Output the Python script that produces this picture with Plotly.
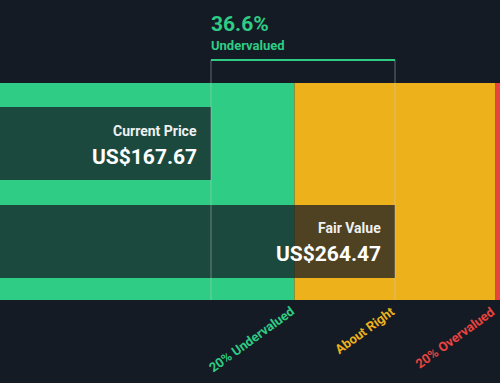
import plotly.graph_objects as go

current_price = 167.67
fair_value = 264.47
bar_labels = ["Current Price", "Fair Value"]
bar_values = [current_price, fair_value]
band_labels = ["20% Undervalued", "About Right", "20% Overvalued"]
undervalued_pct = 36.6

BG = "#151b24"
GREEN = "#2ecc84"
YELLOW = "#edb21b"
RED = "#e8433f"

x_min = 56.66
x_max = 319.7

fig = go.Figure()

# bands
fig.add_shape(type="rect", xref="x", yref="y", x0=x_min, x1=0.8 * fair_value, y0=83, y1=300,
              fillcolor=GREEN, line_width=0, layer="below")
fig.add_shape(type="rect", xref="x", yref="y", x0=0.8 * fair_value, x1=1.2 * fair_value, y0=83, y1=300,
              fillcolor=YELLOW, line_width=0, layer="below")
fig.add_shape(type="rect", xref="x", yref="y", x0=1.2 * fair_value, x1=x_max, y0=83, y1=300,
              fillcolor=RED, line_width=0, layer="below")

# bars
fig.add_trace(go.Bar(
    x=bar_values, y=[143.5, 241], base=0, orientation="h", width=73,
    marker=dict(color="rgba(21,27,36,0.74)", line_width=0),
    hoverinfo="skip", showlegend=False,
))

# vertical guide lines
for v in bar_values:
    fig.add_shape(type="line", xref="x", yref="y", x0=v, x1=v, y0=60, y1=300,
                  line=dict(color="rgba(200,205,210,0.45)", width=1))
# green top line
fig.add_shape(type="line", xref="x", yref="y", x0=current_price, x1=fair_value, y0=60, y1=60,
              line=dict(color=GREEN, width=2))

FONT = "Roboto"
# percent annotation
fig.add_annotation(x=current_price, y=24, xref="x", yref="y", text=f"<b>{undervalued_pct}%</b>",
                   showarrow=False, xanchor="left", yanchor="middle", xshift=-2,
                   font=dict(family=FONT, size=21, color=GREEN))
fig.add_annotation(x=current_price, y=45, xref="x", yref="y", text="<b>Undervalued</b>",
                   showarrow=False, xanchor="left", yanchor="middle", xshift=-2,
                   font=dict(family=FONT, size=13, color=GREEN))

# bar labels
for v, lab, yc in zip(bar_values, bar_labels, [143.5, 241]):
    fig.add_annotation(x=v, y=yc - 13, xref="x", yref="y", text=f"<b>{lab}</b>",
                       showarrow=False, xanchor="right", yanchor="middle", xshift=-12,
                       font=dict(family=FONT, size=14, color="#eef0f2"))
    fig.add_annotation(x=v, y=yc + 13, xref="x", yref="y", text=f"<b>US${v:.2f}</b>",
                       showarrow=False, xanchor="right", yanchor="middle", xshift=-12,
                       font=dict(family=FONT, size=21, color="#ffffff"))

# band labels
for v, lab, col in zip([0.8 * fair_value, fair_value, 1.2 * fair_value], band_labels, [GREEN, YELLOW, RED]):
    fig.add_annotation(x=v, y=301, xref="x", yref="y", text=f"<b>{lab}</b>", textangle=-36,
                       showarrow=False, xanchor="right", yanchor="top", xshift=5,
                       font=dict(family=FONT, size=13, color=col))

fig.update_layout(
    width=500, height=383,
    margin=dict(l=0, r=0, t=0, b=0),
    paper_bgcolor=BG, plot_bgcolor=BG,
    xaxis=dict(range=[x_min, x_max], visible=False, fixedrange=True),
    yaxis=dict(range=[383, 0], visible=False, fixedrange=True),
    bargap=0,
)

fig.write_html("out.html", config={"displayModeBar": False},
               post_script="document.body.style.margin='0';document.body.style.background='%s';" % BG)
